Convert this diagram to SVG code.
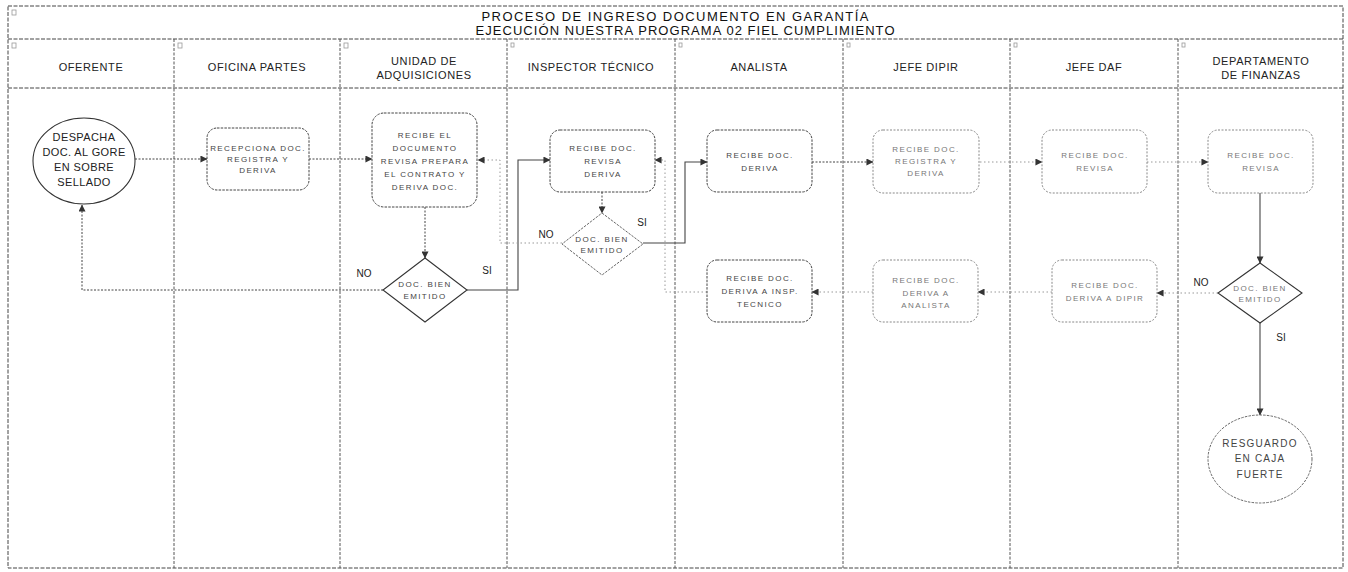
<svg xmlns="http://www.w3.org/2000/svg" width="1348" height="572" viewBox="0 0 1348 572">
<defs>
<marker id="ah" viewBox="0 0 8 8" refX="7.5" refY="4" markerWidth="7" markerHeight="7" markerUnits="userSpaceOnUse" orient="auto">
<path d="M0,0 L8,4 L0,8 z" fill="#333"/>
</marker>
</defs>
<style>
.frame{fill:none;stroke:#444;stroke-width:1;stroke-dasharray:4 1.5}
.lane{fill:none;stroke:#555;stroke-width:1;stroke-dasharray:3 1.5}
.box{fill:#fff;stroke:#444;stroke-width:1;stroke-dasharray:2.5 1.2}
.boxl{fill:#fff;stroke:#888;stroke-width:1;stroke-dasharray:2 1.5}
.dia{fill:#fff;stroke:#333;stroke-width:1.1}
.dial{fill:#fff;stroke:#666;stroke-width:1;stroke-dasharray:2.5 1.2}
.conn{fill:none;stroke:#444;stroke-width:1;stroke-dasharray:2 1.5}
.connl{fill:none;stroke:#999;stroke-width:1;stroke-dasharray:1.5 2.5}
.solid{fill:none;stroke:#444;stroke-width:1.1}
.t{font-family:"Liberation Sans",Arial,sans-serif;fill:#333;text-anchor:middle}
.title{font-size:13px;fill:#111}
.hd{font-size:11px;letter-spacing:0.6px;fill:#222}
.nt{font-size:8px;letter-spacing:1.4px;fill:#444}
.ntl{font-size:8px;letter-spacing:1.4px;fill:#777}
.et{font-size:11px;letter-spacing:0.4px;fill:#222}
.lb{font-size:10px;fill:#222}
.ic{fill:none;stroke:#999;stroke-width:0.8}
</style>

<g id="pool">
<rect class="frame" x="8" y="6" width="1335" height="562"/>
<line class="frame" x1="8" y1="39" x2="1343" y2="39"/>
<line class="frame" x1="8" y1="88" x2="1343" y2="88"/>
<line class="lane" x1="174" y1="39" x2="174" y2="568"/>
<line class="lane" x1="340" y1="39" x2="340" y2="568"/>
<line class="lane" x1="507" y1="39" x2="507" y2="568"/>
<line class="lane" x1="675" y1="39" x2="675" y2="568"/>
<line class="lane" x1="843" y1="39" x2="843" y2="568"/>
<line class="lane" x1="1010" y1="39" x2="1010" y2="568"/>
<line class="lane" x1="1178" y1="39" x2="1178" y2="568"/>
<rect class="ic" x="12" y="10" width="4" height="5"/>
<rect class="ic" x="12" y="43" width="4" height="5"/>
<rect class="ic" x="178" y="43" width="4" height="5"/>
<rect class="ic" x="344" y="43" width="4" height="5"/>
<rect class="ic" x="511" y="43" width="3" height="4"/>
<rect class="ic" x="679" y="43" width="3" height="4"/>
<rect class="ic" x="847" y="43" width="3" height="4"/>
<rect class="ic" x="1014" y="43" width="3" height="4"/>
<rect class="ic" x="1182" y="43" width="3" height="4"/>
<text class="t title" x="675" y="21" textLength="387" lengthAdjust="spacing">PROCESO DE INGRESO DOCUMENTO EN GARANTÍA</text>
<text class="t title" x="685" y="35" textLength="419" lengthAdjust="spacing">EJECUCIÓN NUESTRA PROGRAMA 02 FIEL CUMPLIMIENTO</text>
<text class="t hd" x="91" y="71">OFERENTE</text>
<text class="t hd" x="257" y="71">OFICINA PARTES</text>
<text class="t hd" x="424" y="65">UNIDAD DE</text>
<text class="t hd" x="424" y="79">ADQUISICIONES</text>
<text class="t hd" x="591" y="71">INSPECTOR TÉCNICO</text>
<text class="t hd" x="759" y="71">ANALISTA</text>
<text class="t hd" x="926" y="71">JEFE DIPIR</text>
<text class="t hd" x="1094" y="71">JEFE DAF</text>
<text class="t hd" x="1261" y="65">DEPARTAMENTO</text>
<text class="t hd" x="1261" y="79">DE FINANZAS</text>
</g>

<g id="connectors">
<path class="conn" d="M135,159 L207,159" marker-end="url(#ah)"/>
<path class="conn" d="M309,159 L372,159" marker-end="url(#ah)"/>
<path class="conn" d="M425,207 L425,258" marker-end="url(#ah)"/>
<path class="conn" d="M383,290 L82,290 L82,205" marker-end="url(#ah)"/>
<path class="solid" d="M467,290 L518,290 L518,160 L550,160" marker-end="url(#ah)"/>
<path class="conn" d="M602,192 L602,213" marker-end="url(#ah)"/>
<path class="connl" d="M562,243 L500,243 L500,160 L478,160" marker-end="url(#ah)"/>
<path class="solid" d="M643,243 L685,243 L685,162 L707,162" marker-end="url(#ah)"/>
<path class="conn" d="M812,162 L873,162" marker-end="url(#ah)"/>
<path class="connl" d="M980,162 L1042,162" marker-end="url(#ah)"/>
<path class="connl" d="M1147,162 L1208,162" marker-end="url(#ah)"/>
<path class="solid" d="M1260,193 L1260,263" marker-end="url(#ah)"/>
<path class="connl" d="M1218,293 L1157,293" marker-end="url(#ah)"/>
<path class="connl" d="M1052,292 L978,292" marker-end="url(#ah)"/>
<path class="connl" d="M873,292 L812,292" marker-end="url(#ah)"/>
<path class="connl" d="M707,292 L665,292 L665,160 L655,160" marker-end="url(#ah)"/>
<path class="solid" d="M1260,323 L1260,415" marker-end="url(#ah)"/>
<text class="t lb" x="364" y="277">NO</text>
<text class="t lb" x="487" y="274">SI</text>
<text class="t lb" x="546" y="238">NO</text>
<text class="t lb" x="642" y="226">SI</text>
<text class="t lb" x="1201" y="286">NO</text>
<text class="t lb" x="1281" y="341">SI</text>
</g>

<g id="n-despacha">
<ellipse class="dia" cx="84" cy="161" rx="51" ry="43"/>
<text class="t et" x="84" y="141">DESPACHA</text>
<text class="t et" x="84" y="156">DOC. AL GORE</text>
<text class="t et" x="84" y="171">EN SOBRE</text>
<text class="t et" x="84" y="186">SELLADO</text>
</g>

<g id="n-recepciona">
<rect class="box" x="207" y="128" width="102" height="62" rx="10"/>
<text class="t nt" x="258" y="151">RECEPCIONA DOC.</text>
<text class="t nt" x="258" y="162">REGISTRA Y</text>
<text class="t nt" x="258" y="173">DERIVA</text>
</g>

<g id="n-unidad">
<rect class="box" x="372" y="113" width="105" height="94" rx="12"/>
<text class="t nt" x="425" y="138">RECIBE EL</text>
<text class="t nt" x="425" y="151">DOCUMENTO</text>
<text class="t nt" x="425" y="164">REVISA PREPARA</text>
<text class="t nt" x="425" y="177">EL CONTRATO Y</text>
<text class="t nt" x="425" y="190">DERIVA DOC.</text>
</g>

<g id="n-dec-unidad">
<polygon class="dia" points="425,258 467,290 425,322 383,290"/>
<text class="t nt" x="425" y="287">DOC. BIEN</text>
<text class="t nt" x="425" y="299">EMITIDO</text>
</g>

<g id="n-inspector">
<rect class="box" x="550" y="130" width="105" height="62" rx="10"/>
<text class="t nt" x="603" y="151">RECIBE DOC.</text>
<text class="t nt" x="603" y="164">REVISA</text>
<text class="t nt" x="603" y="177">DERIVA</text>
</g>

<g id="n-dec-inspector">
<polygon class="dial" points="602,213 643,244 602,275 562,244"/>
<text class="t nt" x="602" y="242">DOC. BIEN</text>
<text class="t nt" x="602" y="253">EMITIDO</text>
</g>

<g id="n-analista-1">
<rect class="box" x="707" y="130" width="105" height="62" rx="10"/>
<text class="t nt" x="760" y="158">RECIBE DOC.</text>
<text class="t nt" x="760" y="171">DERIVA</text>
</g>

<g id="n-analista-2">
<rect class="box" x="707" y="260" width="105" height="62" rx="10"/>
<text class="t nt" x="760" y="281">RECIBE DOC.</text>
<text class="t nt" x="760" y="294">DERIVA A INSP.</text>
<text class="t nt" x="760" y="307">TECNICO</text>
</g>

<g id="n-dipir-1">
<rect class="boxl" x="873" y="130" width="106" height="63" rx="10"/>
<text class="t ntl" x="926" y="152">RECIBE DOC.</text>
<text class="t ntl" x="926" y="164">REGISTRA Y</text>
<text class="t ntl" x="926" y="176">DERIVA</text>
</g>

<g id="n-dipir-2">
<rect class="boxl" x="873" y="260" width="105" height="62" rx="10"/>
<text class="t ntl" x="926" y="283">RECIBE DOC.</text>
<text class="t ntl" x="926" y="296">DERIVA A</text>
<text class="t ntl" x="926" y="308">ANALISTA</text>
</g>

<g id="n-daf-1">
<rect class="boxl" x="1042" y="130" width="105" height="63" rx="10"/>
<text class="t ntl" x="1095" y="158">RECIBE DOC.</text>
<text class="t ntl" x="1095" y="171">REVISA</text>
</g>

<g id="n-daf-2">
<rect class="boxl" x="1052" y="260" width="105" height="62" rx="10"/>
<text class="t ntl" x="1105" y="288">RECIBE DOC.</text>
<text class="t ntl" x="1105" y="301">DERIVA A DIPIR</text>
</g>

<g id="n-depto">
<rect class="boxl" x="1208" y="130" width="105" height="63" rx="10"/>
<text class="t ntl" x="1261" y="158">RECIBE DOC.</text>
<text class="t ntl" x="1261" y="171">REVISA</text>
</g>

<g id="n-dec-depto">
<polygon class="dia" points="1260,263 1302,293 1260,323 1218,293"/>
<text class="t ntl" x="1260" y="291">DOC. BIEN</text>
<text class="t ntl" x="1260" y="302">EMITIDO</text>
</g>

<g id="n-resguardo">
<ellipse class="dial" cx="1260" cy="459" rx="52" ry="44"/>
<text class="t nt" x="1260" y="447" style="letter-spacing:1.2px;font-size:10px">RESGUARDO</text>
<text class="t nt" x="1260" y="462" style="letter-spacing:1.2px;font-size:10px">EN CAJA</text>
<text class="t nt" x="1260" y="478" style="letter-spacing:1.2px;font-size:10px">FUERTE</text>
</g>
</svg>
